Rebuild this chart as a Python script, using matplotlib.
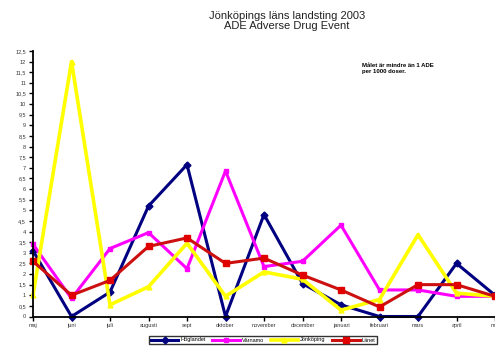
import numpy as np
import matplotlib
matplotlib.use('Agg')
from matplotlib import pyplot as plt

plt.rcParams['font.family'] = ['Liberation Sans', 'DejaVu Sans']

# months from maj 2003 to maj 2004
months = ['maj', 'juni', 'juli', 'augusti', 'sept', 'oktober', 'november',
          'december', 'januari', 'februari', 'mars', 'april', 'maj']

hoglandet = [3.1, 0.0, 1.15, 5.2, 7.15, 0.0, 4.8, 1.55, 0.55, 0.0, 0.0, 2.5, 1.0]
varnamo = [3.4, 0.85, 3.2, 3.95, 2.25, 6.85, 2.35, 2.6, 4.3, 1.25, 1.25, 0.95, 0.95]
jonkoping = [1.0, 12.0, 0.55, 1.4, 3.45, 0.95, 2.1, 1.75, 0.3, 0.8, 3.85, 1.1, 0.95]
lanet = [2.6, 1.0, 1.7, 3.3, 3.7, 2.5, 2.75, 1.95, 1.25, 0.45, 1.5, 1.5, 0.95]

yticks = np.arange(0, 13, 0.5)
ytick_labels = [('%g' % v).replace('.', ',') for v in yticks]

x = np.arange(len(months))

fig = plt.figure(figsize=(4.95, 3.5), dpi=100)
ax = fig.add_axes([33/495, 33.5/350, 462/495, 265.5/350])

ax.plot(x, hoglandet, color='#000080', lw=2.2, marker='D', ms=3.5, label='Höglandet', clip_on=False)
ax.plot(x, varnamo, color='#ff00ff', lw=2.2, marker='s', ms=3.5, label='Värnamo', clip_on=False)
ax.plot(x, jonkoping, color='#ffff00', lw=2.6, marker='^', ms=3.5, label='Jönköping', clip_on=False)
ax.plot(x, lanet, color='#cc1010', lw=2.2, marker='s', ms=5, mfc='#e00000', mec='#e00000',
        label='Länet', clip_on=False)

ax.set_xlim(0, 12)
ax.set_ylim(0, 12.5)
ax.set_xticks(x)
ax.set_xticklabels(months, fontsize=4, color='#333333')
ax.set_yticks(yticks)
ax.set_yticklabels(ytick_labels, fontsize=4, color='#333333')
ax.tick_params(axis='both', direction='out', length=3, width=1, pad=2)
ax.spines['top'].set_visible(False)
ax.spines['right'].set_visible(False)
ax.spines['left'].set_linewidth(1.3)
ax.spines['bottom'].set_linewidth(1.3)

fig.text(0.58, 1 - 11/350, 'Jönköpings läns landsting 2003\nADE Adverse Drug Event',
         ha='center', va='top', fontsize=8, color='#222222', linespacing=1.05)

fig.text(362/495, 1 - 63/350, 'Målet är mindre än 1 ADE\nper 1000 doser.',
         ha='left', va='top', fontsize=4.3, fontweight='bold', linespacing=1.3)

leg = fig.legend(loc='center', bbox_to_anchor=(263/495, 1 - 340/350), ncol=4,
                 fontsize=4, frameon=True, fancybox=False, edgecolor='black',
                 handlelength=5, columnspacing=1.2, handletextpad=0.3,
                 borderpad=0.3)
leg.get_frame().set_linewidth(1.0)

plt.savefig('out.png', dpi=100)
